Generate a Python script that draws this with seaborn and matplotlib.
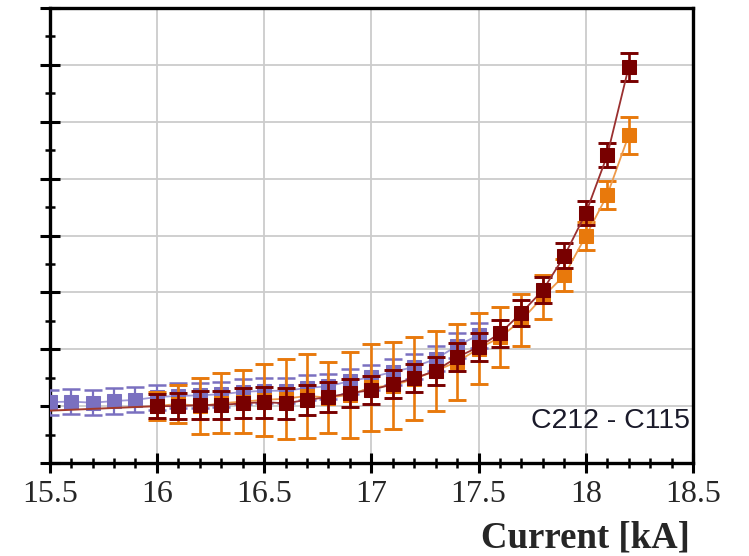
import numpy as np
import pandas as pd
import matplotlib
matplotlib.use("Agg")
import matplotlib.pyplot as plt
from matplotlib.ticker import MultipleLocator, NullFormatter
import seaborn as sns

# ---------------- data ----------------
x_purple = [15.5, 15.6, 15.7, 15.8, 15.9, 16.0, 16.1, 16.2, 16.3, 16.4, 16.5,
            16.6, 16.7, 16.8, 16.9, 17.0, 17.1, 17.2, 17.3, 17.4, 17.5]
y_purple = [1.07, 1.08, 1.06, 1.09, 1.11, 1.16, 1.18, 1.19, 1.21, 1.25, 1.27,
            1.27, 1.32, 1.35, 1.44, 1.51, 1.60, 1.69, 1.83, 2.06, 2.25]
e_purple = [0.22, 0.22, 0.22, 0.22, 0.22, 0.22, 0.22, 0.22, 0.22, 0.22, 0.22,
            0.22, 0.22, 0.22, 0.22, 0.22, 0.22, 0.22, 0.22, 0.22, 0.22]

x_main = [16.0, 16.1, 16.2, 16.3, 16.4, 16.5, 16.6, 16.7, 16.8, 16.9, 17.0,
          17.1, 17.2, 17.3, 17.4, 17.5, 17.6, 17.7, 17.8, 17.9, 18.0, 18.1, 18.2]
y_orange = [1.00, 1.04, 1.00, 1.05, 1.08, 1.11, 1.13, 1.18, 1.15, 1.20, 1.33,
            1.36, 1.48, 1.62, 1.78, 2.01, 2.21, 2.51, 2.92, 3.30, 3.99, 4.71, 5.76]
e_orange = [0.25, 0.33, 0.49, 0.53, 0.56, 0.63, 0.70, 0.74, 0.63, 0.76, 0.77,
            0.77, 0.73, 0.70, 0.67, 0.62, 0.53, 0.46, 0.39, 0.28, 0.25, 0.25, 0.32]
y_red = [1.00, 1.00, 1.02, 1.02, 1.05, 1.07, 1.05, 1.11, 1.16, 1.23, 1.28,
         1.39, 1.49, 1.62, 1.86, 2.04, 2.28, 2.64, 3.04, 3.64, 4.39, 5.41, 6.96]
e_red = [0.21, 0.23, 0.25, 0.25, 0.26, 0.27, 0.27, 0.26, 0.26, 0.25, 0.25,
         0.25, 0.25, 0.25, 0.25, 0.24, 0.24, 0.23, 0.23, 0.22, 0.21, 0.21, 0.25]
# dark red curve continues to the left edge without markers
x_red_tail = [15.5, 16.0]
y_red_tail = [0.92, 1.00]

x_ticks = [15.5, 16.0, 16.5, 17.0, 17.5, 18.0, 18.5]
x_ticklabels = ["15.5", "16", "16.5", "17", "17.5", "18", "18.5"]
label_text = "C212 - C115"
x_label = "Current [kA]"

c_purple = "#7a70c0"
c_orange = "#e8790c"
c_red = "#780000"

# ---------------- figure ----------------
sns.set_theme(style="white")
plt.rcParams["font.family"] = ["Liberation Serif", "DejaVu Serif"]

fig = plt.figure(figsize=(7.49, 5.56), dpi=100)
ax = fig.add_axes([49.7 / 749, 1 - 463 / 556, (693 - 49.7) / 749, (463 - 8) / 556])

ax.set_xlim(15.5, 18.5)
ax.set_ylim(0, 8)

ax.grid(True, which="major", color="#cccccc", linewidth=1.3)
ax.set_axisbelow(True)

df_p = pd.DataFrame({"x": x_purple, "y": y_purple})
df_o = pd.DataFrame({"x": x_main, "y": y_orange})
df_r = pd.DataFrame({"x": x_main, "y": y_red})
df_t = pd.DataFrame({"x": x_red_tail, "y": y_red_tail})

capsize = 6.5
# purple
ax.errorbar(x_purple, y_purple, yerr=e_purple, fmt="none", ecolor=c_purple,
            elinewidth=1.6, capsize=capsize, capthick=1.8, zorder=3)
sns.lineplot(data=df_p, x="x", y="y", ax=ax, color="#9e97d6", linewidth=1.3,
             marker="s", markersize=10, markerfacecolor=c_purple,
             markeredgecolor=c_purple, zorder=4, legend=False)
# orange
ax.errorbar(x_main, y_orange, yerr=e_orange, fmt="none", ecolor=c_orange,
            elinewidth=1.9, capsize=capsize, capthick=2.1, zorder=5)
sns.lineplot(data=df_o, x="x", y="y", ax=ax, color="#ee9a4a", linewidth=1.3,
             marker="s", markersize=10, markerfacecolor=c_orange,
             markeredgecolor=c_orange, zorder=6, legend=False)
# dark red
sns.lineplot(data=df_t, x="x", y="y", ax=ax, color="#a33a2a", linewidth=1.4,
             zorder=7, legend=False)
ax.errorbar(x_main, y_red, yerr=e_red, fmt="none", ecolor=c_red,
            elinewidth=1.9, capsize=capsize, capthick=2.1, zorder=7)
sns.lineplot(data=df_r, x="x", y="y", ax=ax, color="#9a3030", linewidth=1.3,
             marker="s", markersize=10, markerfacecolor=c_red,
             markeredgecolor=c_red, zorder=8, legend=False)

# ticks
ax.set_xticks(x_ticks)
ax.set_xticklabels(x_ticklabels, fontsize=23, family=["Liberation Serif"])
ax.xaxis.set_minor_locator(MultipleLocator(0.1))
ax.yaxis.set_major_locator(MultipleLocator(1))
ax.yaxis.set_minor_locator(MultipleLocator(0.5))
ax.yaxis.set_major_formatter(NullFormatter())
ax.tick_params(axis="both", which="major", direction="inout", length=14,
               width=2.2, color="black", pad=5, bottom=True, left=True,
               top=False, right=False)
ax.tick_params(axis="both", which="minor", direction="inout", length=7,
               width=1.8, color="black", bottom=True, left=True,
               top=False, right=False)

for s in ax.spines.values():
    s.set_color("black")
    s.set_linewidth(2.4)

ax.set_xlabel("")
ax.set_ylabel("")

ax.text(0.995, 0.077, label_text, transform=ax.transAxes, ha="right",
        va="baseline", fontsize=20.5, color="#1a1a2a",
        family=["Liberation Sans", "DejaVu Sans"], zorder=10)

fig.text(690 / 749, 1 - 548 / 556, x_label, ha="right", va="baseline",
         fontsize=26.5, fontweight="bold", family=["Liberation Serif"])

fig.savefig("out.png", dpi=100)
